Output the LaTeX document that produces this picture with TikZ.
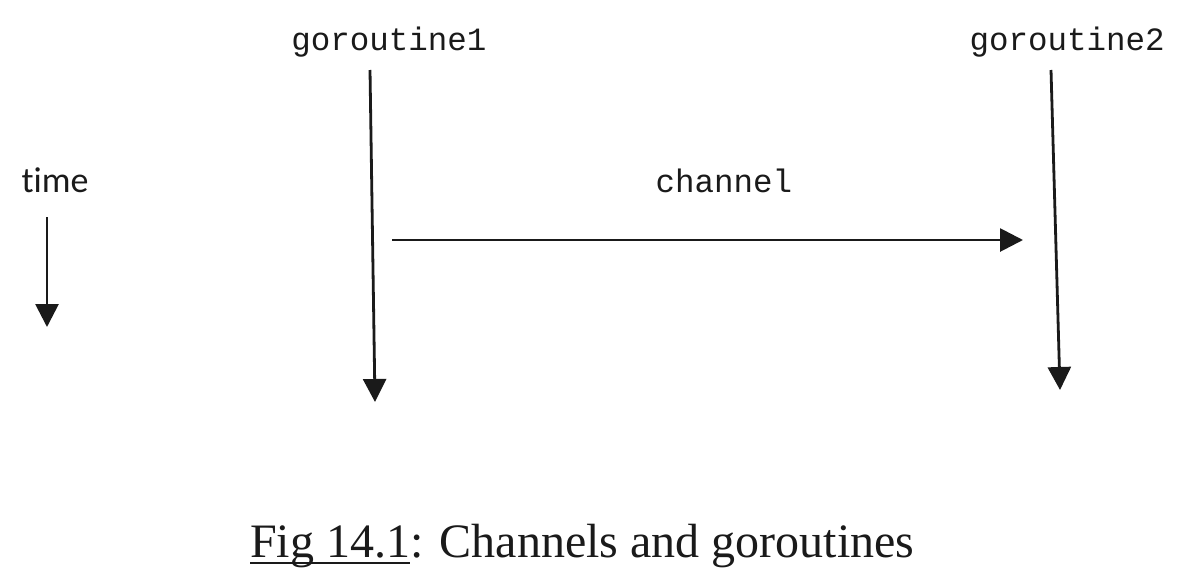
\documentclass[tikz,border=0pt]{standalone}
\usepackage{fontspec}
\setmainfont{Liberation Serif}
\setmonofont{Liberation Mono}
\newfontfamily\timefont[Ligatures=NoCommon]{Carlito}
\usetikzlibrary{arrows.meta}
\definecolor{ink}{HTML}{1A1A1A}
\tikzset{
  monolabel/.style={inner sep=0pt, anchor=base, text=ink, font=\ttfamily\fontsize{32.5}{39}\selectfont},
  timelabel/.style={inner sep=0pt, anchor=base, text=ink, font=\timefont\fontsize{36}{42}\selectfont},
  caplabel/.style={inner sep=0pt, text=ink, font=\rmfamily\fontsize{48}{56}\selectfont},
  flow/.style={draw=ink, line width=2.8pt, -{Triangle[length=23pt,width=23pt]}},
}
\begin{document}
\begin{tikzpicture}[x=1pt,y=-1pt]
\useasboundingbox (0,0) rectangle (1182,584);
\fill[white] (0,0) rectangle (1182,584);
% labels
\node[monolabel] (g1) at (389,50) {goroutine1};
\node[monolabel] (g2) at (1067,50) {goroutine2};
\node[monolabel] (ch) at (724,192) {channel};
\node[timelabel] (time) at (55,192) {time};
% coordinates
\coordinate (g1top) at (370,70);
\coordinate (g1bot) at (375,402);
\coordinate (g2top) at (1051,70);
\coordinate (g2bot) at (1060,390);
\coordinate (chstart) at (392,240);
\coordinate (chend) at (1023,240);
\coordinate (ttop) at (47,217);
\coordinate (tbot) at (47,327);
% arrows
\draw[flow] (g1top) -- (g1bot);
\draw[flow] (g2top) -- (g2bot);
\draw[flow] (chstart) -- (chend);
\draw[flow] (ttop) -- (tbot);
% caption
\node[caplabel, anchor=base west] (fig) at (250,557) {Fig 14.1};
\node[caplabel, anchor=base west] (cap) at (fig.base east) {: Channels and goroutines};
\draw[ink, line width=1.8pt] ([yshift=-6pt]fig.base west) -- ([yshift=-6pt]fig.base east);
\end{tikzpicture}
\end{document}
